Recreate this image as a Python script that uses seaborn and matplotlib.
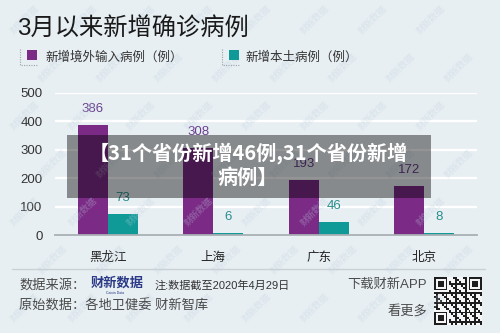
import numpy as np
import pandas as pd
import matplotlib
matplotlib.use("Agg")
import matplotlib.pyplot as plt
import seaborn as sns
from matplotlib.patches import Rectangle
from matplotlib.lines import Line2D

# ---- data ----
provinces = ["黑龙江", "上海", "广东", "北京"]
imported_cases = [386, 308, 193, 172]
local_cases = [73, 6, 46, 8]
series_names = ["新增境外输入病例（例）", "新增本土病例（例）"]
y_ticks = [0, 100, 200, 300, 400, 500]

title_text = "3月以来新增确诊病例"
banner_lines = ["【31个省份新增46例,31个省份新增", "病例】"]

BG = "#e8eff3"
PURPLE = "#7b2a86"
TEAL = "#0f9a97"
PURPLE_TXT = "#6a3f8e"
TEAL_TXT = "#2a8e8c"

sns.set_theme(style="white")
plt.rcParams["font.family"] = ["Liberation Sans", "Noto Sans CJK SC", "DejaVu Sans"]

W, H = 500, 333
fig = plt.figure(figsize=(W / 100, H / 100), dpi=100, facecolor=BG)


def fx(x):
    return x / W


def fy(y):
    return 1 - y / H


# ---- main axes ----
ax = fig.add_axes([fx(55), fy(235), fx(477) - fx(55), fy(93) - fy(235)])
ax.set_facecolor(BG)

df = pd.DataFrame({
    "省份": provinces * 2,
    "类型": [series_names[0]] * len(provinces) + [series_names[1]] * len(provinces),
    "病例": imported_cases + local_cases,
})

sns.barplot(data=df, x="省份", y="病例", hue="类型", hue_order=series_names,
            palette={series_names[0]: PURPLE, series_names[1]: TEAL},
            width=0.57, gap=0, linewidth=0, saturation=1, errorbar=None,
            legend=False, ax=ax, zorder=3)

ax.set_xlim(-0.5, len(provinces) - 0.5)
ax.set_ylim(0, 500)
ax.set_yticks(y_ticks)
ax.set_xlabel("")
ax.set_ylabel("")
ax.grid(False)
for yv in y_ticks[1:]:
    ax.axhline(yv, color="white", lw=1.6, zorder=1)

for side in ["left", "right", "top"]:
    ax.spines[side].set_visible(False)
ax.spines["bottom"].set_color("#a9b0b4")
ax.spines["bottom"].set_linewidth(1.3)
ax.spines["bottom"].set_zorder(4)

ax.tick_params(axis="y", length=0, pad=9, labelsize=9.5, labelcolor="#333333")
ax.tick_params(axis="x", which="major", length=0, pad=12, labelsize=9, labelcolor="#222222")
ax.set_xticks(np.arange(-0.5, len(provinces)), minor=True)
ax.tick_params(axis="x", which="minor", length=4, width=1, color="#a9b0b4", direction="out")

# value labels above each bar
for container, color in zip(ax.containers, [PURPLE_TXT, TEAL_TXT]):
    for bar, val in zip(container, container.datavalues):
        ax.annotate(f"{int(val)}", (bar.get_x() + bar.get_width() / 2, val),
                    xytext=(0, 11.5), textcoords="offset points",
                    ha="center", va="center", fontsize=9.5, color=color, zorder=5)

# ---- title and legend ----
fig.text(fx(17), fy(29), title_text, fontsize=17.5, color="#1a1a1a",
         ha="left", va="center")

legend_items = [(27, 45, series_names[0], PURPLE, 20),
                (229, 245, series_names[1], TEAL, 222)]
for sx, tx, label, color, cx in legend_items:
    fig.add_artist(Rectangle((fx(sx), fy(60)), fx(10), fy(50) - fy(60),
                             transform=fig.transFigure, color=color, lw=0))
    fig.text(fx(tx), fy(58), label, fontsize=9, color="#333333", ha="left", va="center")
    # dotted corner bracket
    fig.add_artist(Line2D([fx(cx), fx(cx), fx(cx + 17)], [fy(49), fy(65), fy(65)],
                          transform=fig.transFigure, color="#9aa3a8", lw=0.8,
                          linestyle=(0, (1, 1.2))))

# ---- footer ----
fig.add_artist(Line2D([fx(12), fx(485)], [fy(269), fy(269)],
                      transform=fig.transFigure, color="#c9d1d6", lw=1))

foot_color = "#4a4a4a"
fig.text(fx(19), fy(285), "数据来源：", fontsize=9.5, color=foot_color, va="center")
fig.text(fx(91), fy(283), "财新数据", fontsize=9.5, color="#2b3a86",
         fontweight="bold", va="center",
         family=["Noto Sans CJK SC", "DejaVu Sans"])
fig.text(fx(106), fy(292.5), "Caixin Data", fontsize=2.5, color="#2b3a86", va="center")
fig.text(fx(155), fy(285), "注:数据截至2020年4月29日", fontsize=8, color="#333333", va="center")
fig.text(fx(19), fy(306), "原始数据：各地卫健委 财新智库", fontsize=9.5, color=foot_color, va="center")
fig.text(fx(427), fy(285), "下载财新APP", fontsize=9.5, color=foot_color, ha="right", va="center")
fig.text(fx(427), fy(311), "看更多", fontsize=9.5, color=foot_color, ha="right", va="center")

# QR-style code block
n = 25
qr = np.zeros((n, n))
ii, jj = np.meshgrid(np.arange(n), np.arange(n), indexing="ij")
qr[((ii * 7 + jj * 11 + ii * jj * 3) % 5) < 2] = 1
for (r0, c0) in [(0, 0), (0, n - 7), (n - 7, 0)]:
    rs = slice(max(r0 - 1, 0), min(r0 + 8, n))
    cs = slice(max(c0 - 1, 0), min(c0 + 8, n))
    qr[rs, cs] = 0
    qr[r0:r0 + 7, c0:c0 + 7] = 1
    qr[r0 + 1:r0 + 6, c0 + 1:c0 + 6] = 0
    qr[r0 + 2:r0 + 5, c0 + 2:c0 + 5] = 1
qax = fig.add_axes([fx(434), fy(325), fx(48), fy(277) - fy(325)])
qax.imshow(qr, cmap=matplotlib.colors.ListedColormap(["#f4f6f7", "#1e1e1e"]),
           interpolation="nearest", aspect="auto")
qax.axis("off")

# faint diagonal watermarks, kept inside the canvas
for row, y0 in enumerate(range(20, 320, 48)):
    for x0 in range(25 + (row % 2) * 28, 480, 58):
        fig.text(fx(x0), fy(y0), "财新数据", fontsize=6.5, color="#bccfdc",
                 rotation=45, ha="center", va="center", alpha=0.3, zorder=0.5,
                 fontweight="bold", family=["Noto Sans CJK SC", "DejaVu Sans"])

# ---- headline banner overlay ----
fig.add_artist(Rectangle((fx(67), fy(198)), fx(431) - fx(67), fy(135) - fy(198),
                         transform=fig.transFigure, color="black", alpha=0.42,
                         lw=0, zorder=10))
fig.text(fx(248), fy(153), banner_lines[0], fontsize=14.5, color="white",
         fontweight="bold", ha="center", va="center", zorder=11,
         family=["Noto Sans CJK SC", "DejaVu Sans"])
fig.text(fx(248), fy(177), banner_lines[1], fontsize=14.5, color="white",
         fontweight="bold", ha="center", va="center", zorder=11,
         family=["Noto Sans CJK SC", "DejaVu Sans"])

fig.savefig("out.png", dpi=100, facecolor=BG)
